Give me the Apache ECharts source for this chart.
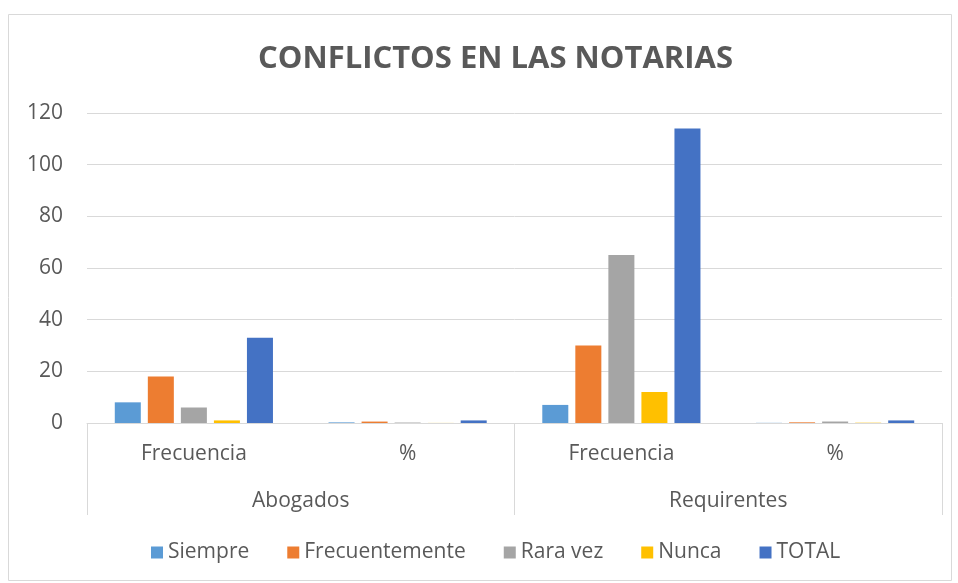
<!DOCTYPE html>
<html>
<head>
<meta charset="utf-8">
<script src="https://cdn.jsdelivr.net/npm/echarts@6/dist/echarts.min.js"></script>
<style>
  html, body { margin: 0; padding: 0; background: #fff; }
  #chart { width: 958px; height: 583px; }
</style>
</head>
<body>
<div id="chart"></div>
<script>
// datos del grafico
var subCategorias = ['Frecuencia', '%', 'Frecuencia', '%'];
var grupos = ['Abogados', 'Requirentes'];
var nombresSeries = ['Siempre', 'Frecuentemente', 'Rara vez', 'Nunca', 'TOTAL'];
var siempre = [8, 0.24, 7, 0.06];
var frecuentemente = [18, 0.55, 30, 0.26];
var raraVez = [6, 0.18, 65, 0.57];
var nunca = [1, 0.03, 12, 0.11];
var total = [33, 1, 114, 1];
var colores = ['#5B9BD5', '#ED7D31', '#A5A5A5', '#FFC000', '#4472C4'];

var valores = [siempre, frecuentemente, raraVez, nunca, total];
var fuente = '"Open Sans", Lato, sans-serif';

var myChart = echarts.init(document.getElementById('chart'));

var series = [];
for (var i = 0; i < nombresSeries.length; i++) {
  series.push({
    name: nombresSeries[i],
    type: 'bar',
    xAxisIndex: 0,
    data: valores[i],
    barGap: '27%',
    barCategoryGap: '26%',
    itemStyle: { color: colores[i] }
  });
}

var option = {
  animation: false,
  color: colores,
  textStyle: { fontFamily: fuente },
  title: {
    text: 'CONFLICTOS EN LAS NOTARIAS',
    left: 253,
    top: 39,
    textStyle: { fontFamily: fuente, fontSize: 31, fontWeight: 'bold', color: '#595959' }
  },
  graphic: [{
    type: 'rect',
    shape: { x: 8.5, y: 14.5, width: 943, height: 566 },
    style: { fill: 'none', stroke: '#d9d9d9', lineWidth: 1 },
    silent: true
  }],
  legend: {
    data: nombresSeries,
    bottom: 15,
    left: 146,
    itemWidth: 12,
    itemHeight: 12,
    itemGap: 38,
    icon: 'rect',
    textStyle: { fontFamily: fuente, fontSize: 21, color: '#595959', padding: [0, 0, 0, 0] }
  },
  grid: { left: 87, right: 16, top: 113, bottom: 160 },
  xAxis: [{
    type: 'category',
    data: subCategorias,
    axisLine: { lineStyle: { color: '#d9d9d9' } },
    axisTick: { show: false },
    axisLabel: { fontSize: 21, color: '#595959', margin: 21, fontFamily: fuente }
  }, {
    type: 'category',
    data: grupos,
    position: 'bottom',
    axisLine: { show: false },
    axisTick: { show: true, length: 92, lineStyle: { color: '#d9d9d9' } },
    axisLabel: { fontSize: 21, color: '#595959', margin: 68, fontFamily: fuente }
  }],
  yAxis: {
    type: 'value',
    min: 0,
    max: 120,
    interval: 20,
    axisLine: { show: false },
    axisTick: { show: false },
    axisLabel: { fontSize: 21, color: '#595959', margin: 24, fontFamily: fuente },
    splitLine: { lineStyle: { color: '#d9d9d9' } }
  },
  series: series
};

myChart.setOption(option);
</script>
</body>
</html>
